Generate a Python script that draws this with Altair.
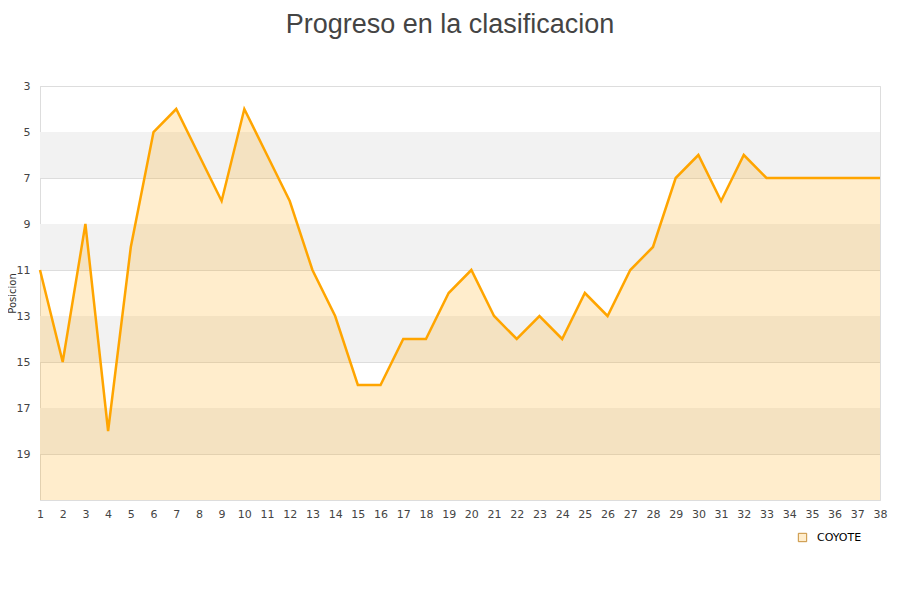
import altair as alt
import pandas as pd

jornadas = list(range(1, 39))
posiciones = [11, 15, 9, 18, 10, 5, 4, 6, 8, 4, 6, 8, 11, 13, 16, 16, 14, 14, 12, 11,
              13, 14, 13, 14, 12, 13, 11, 10, 7, 6, 8, 6, 7, 7, 7, 7, 7, 7]
equipo = "COYOTE"
y_ticks = [3, 5, 7, 9, 11, 13, 15, 17, 19]
banda_ini = [5, 9, 13, 17]
banda_fin = [7, 11, 15, 19]
y_min, y_max = 3, 21

df = pd.DataFrame({"jornada": jornadas, "pos": posiciones, "equipo": [equipo] * len(jornadas)})
bands = pd.DataFrame({"y": banda_ini, "y2": banda_fin})

xs = alt.Scale(domain=[1, 38], nice=False, zero=False)
ys = alt.Scale(domain=[y_min, y_max], reverse=True, nice=False, zero=False)

x_axis = alt.Axis(values=jornadas, title=None, ticks=False, grid=False,
                  labelFontSize=11, labelColor="#444", labelPadding=8,
                  labelOverlap=False, labelBound=False,
                  domainColor="#ddd", labelFont="DejaVu Sans", labelFlush=False)
y_axis = alt.Axis(values=y_ticks, title="Posicion", ticks=False, grid=True,
                  gridColor="#dddddd", domainColor="#ddd",
                  labelFontSize=11, labelColor="#444", labelPadding=10,
                  labelFont="DejaVu Sans", titleFont="DejaVu Sans",
                  titleFontSize=10, titleFontWeight="normal", titleColor="#333",
                  titleX=-23, titleY=207)

band_layer = alt.Chart(bands).mark_rect(color="#f2f2f2").encode(
    y=alt.Y("y:Q", scale=ys, axis=y_axis),
    y2="y2:Q",
    x=alt.value(0),
    x2=alt.value(840),
)

area = alt.Chart(df).mark_area(strokeWidth=0).encode(
    x=alt.X("jornada:Q", scale=xs, axis=x_axis),
    y=alt.Y("pos:Q", scale=ys, axis=y_axis),
    y2=alt.datum(y_max),
    fill=alt.Fill("equipo:N", scale=alt.Scale(range=["rgba(255,165,0,0.2)"]),
                  legend=alt.Legend(title=None, orient="none", legendX=757, legendY=446,
                                    symbolType="square", symbolSize=70, labelOffset=9,
                                    symbolStrokeColor="#c8903a", symbolStrokeWidth=1,
                                    labelFontSize=11, labelColor="#000",
                                    labelFont="DejaVu Sans")),
)

line = alt.Chart(df).mark_line(color="#ffa500", strokeWidth=2.5).encode(
    x=alt.X("jornada:Q", scale=xs, axis=x_axis),
    y=alt.Y("pos:Q", scale=ys, axis=y_axis),
)

chart = alt.layer(band_layer, area, line).properties(
    width=840, height=414,
    title=alt.TitleParams("Progreso en la clasificacion", fontSize=27, font="Liberation Sans",
                          fontWeight="normal", color="#444", anchor="middle", dx=-10, offset=41),
    autosize=alt.AutoSizeParams(type="none"),
    padding={"left": 32, "top": 78, "right": 12, "bottom": 60},
).configure_view(stroke="#ddd").configure(background="white").configure_axisX(labelOverlap=False)

chart.save("out.html", embed_options={"renderer": "svg", "actions": False})
